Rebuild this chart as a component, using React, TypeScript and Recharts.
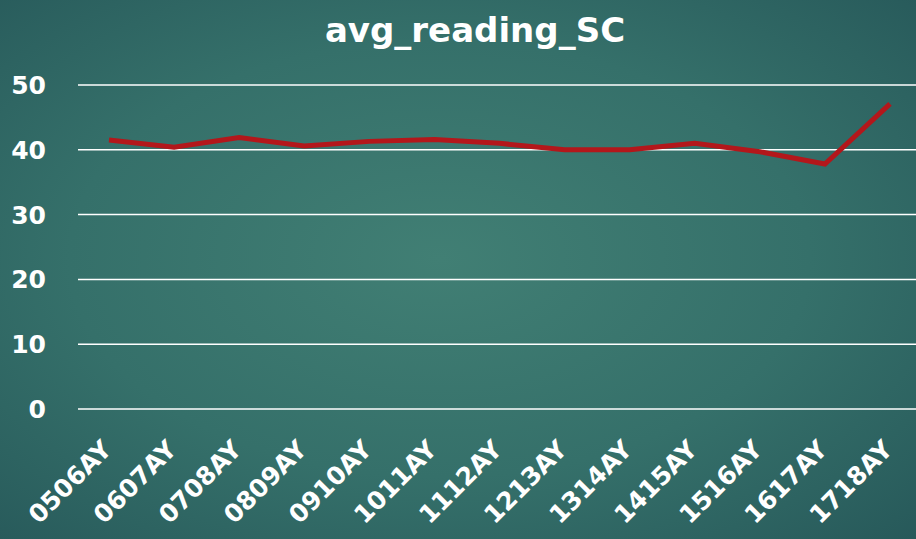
import React from "react";
import { LineChart, Line, XAxis, YAxis, CartesianGrid } from "recharts";

const categories = ["0506AY", "0607AY", "0708AY", "0809AY", "0910AY", "1011AY", "1112AY", "1213AY", "1314AY", "1415AY", "1516AY", "1617AY", "1718AY"];
const avgReadingSC = [41.5, 40.4, 41.9, 40.6, 41.3, 41.6, 41.0, 40.0, 40.0, 41.0, 39.7, 37.8, 47.1];
const yTicks = [0, 10, 20, 30, 40, 50];
const title = "avg_reading_SC";

const data = categories.map((c, i) => ({ name: c, value: avgReadingSC[i] }));

const FONT = "'DejaVu Sans', sans-serif";

const XTick = (props: any) => {
  const { x, y, payload } = props;
  return (
    <g transform={`translate(${x + 4},${y + 34})`}>
      <text
        transform="rotate(-45)"
        textAnchor="end"
        fill="#ffffff"
        fontSize={25}
        fontWeight="bold"
        fontFamily={FONT}
      >
        {payload.value}
      </text>
    </g>
  );
};

const YTick = (props: any) => {
  const { y, payload } = props;
  return (
    <text
      x={46}
      y={y}
      textAnchor="end"
      dy="0.36em"
      fill="#ffffff"
      fontSize={25}
      fontWeight="bold"
      fontFamily={FONT}
    >
      {payload.value}
    </text>
  );
};

export default function App() {
  return (
    <div
      style={{
        position: "absolute",
        left: 0,
        top: 0,
        width: 916,
        height: 539,
        background: "radial-gradient(ellipse at 48% 48%, #417f74 0%, #35706a 55%, #27595a 100%)",
        overflow: "hidden",
      }}
    >
      <div
        style={{
          position: "absolute",
          left: 0,
          top: 10,
          width: 950,
          textAlign: "center",
          color: "#ffffff",
          fontFamily: FONT,
          fontWeight: "bold",
          fontSize: 34,
          lineHeight: "40px",
        }}
      >
        {title}
      </div>
      <LineChart
        width={916}
        height={539}
        data={data}
        margin={{ top: 85, right: 0, bottom: 0, left: 0 }}
        style={{ position: "absolute", left: 0, top: 0 }}
      >
        <CartesianGrid vertical={false} stroke="#ffffff" strokeWidth={1.5} />
        <XAxis
          dataKey="name"
          height={130}
          axisLine={false}
          tickLine={false}
          interval={0}
          padding={{ left: 31, right: 26 }}
          tick={<XTick />}
        />
        <YAxis
          width={78}
          domain={[0, 50]}
          ticks={yTicks}
          axisLine={false}
          tickLine={false}
          tick={<YTick />}
        />
        <Line
          type="linear"
          dataKey="value"
          stroke="#b3171b"
          strokeWidth={5}
          dot={false}
          isAnimationActive={false}
        />
      </LineChart>
    </div>
  );
}
